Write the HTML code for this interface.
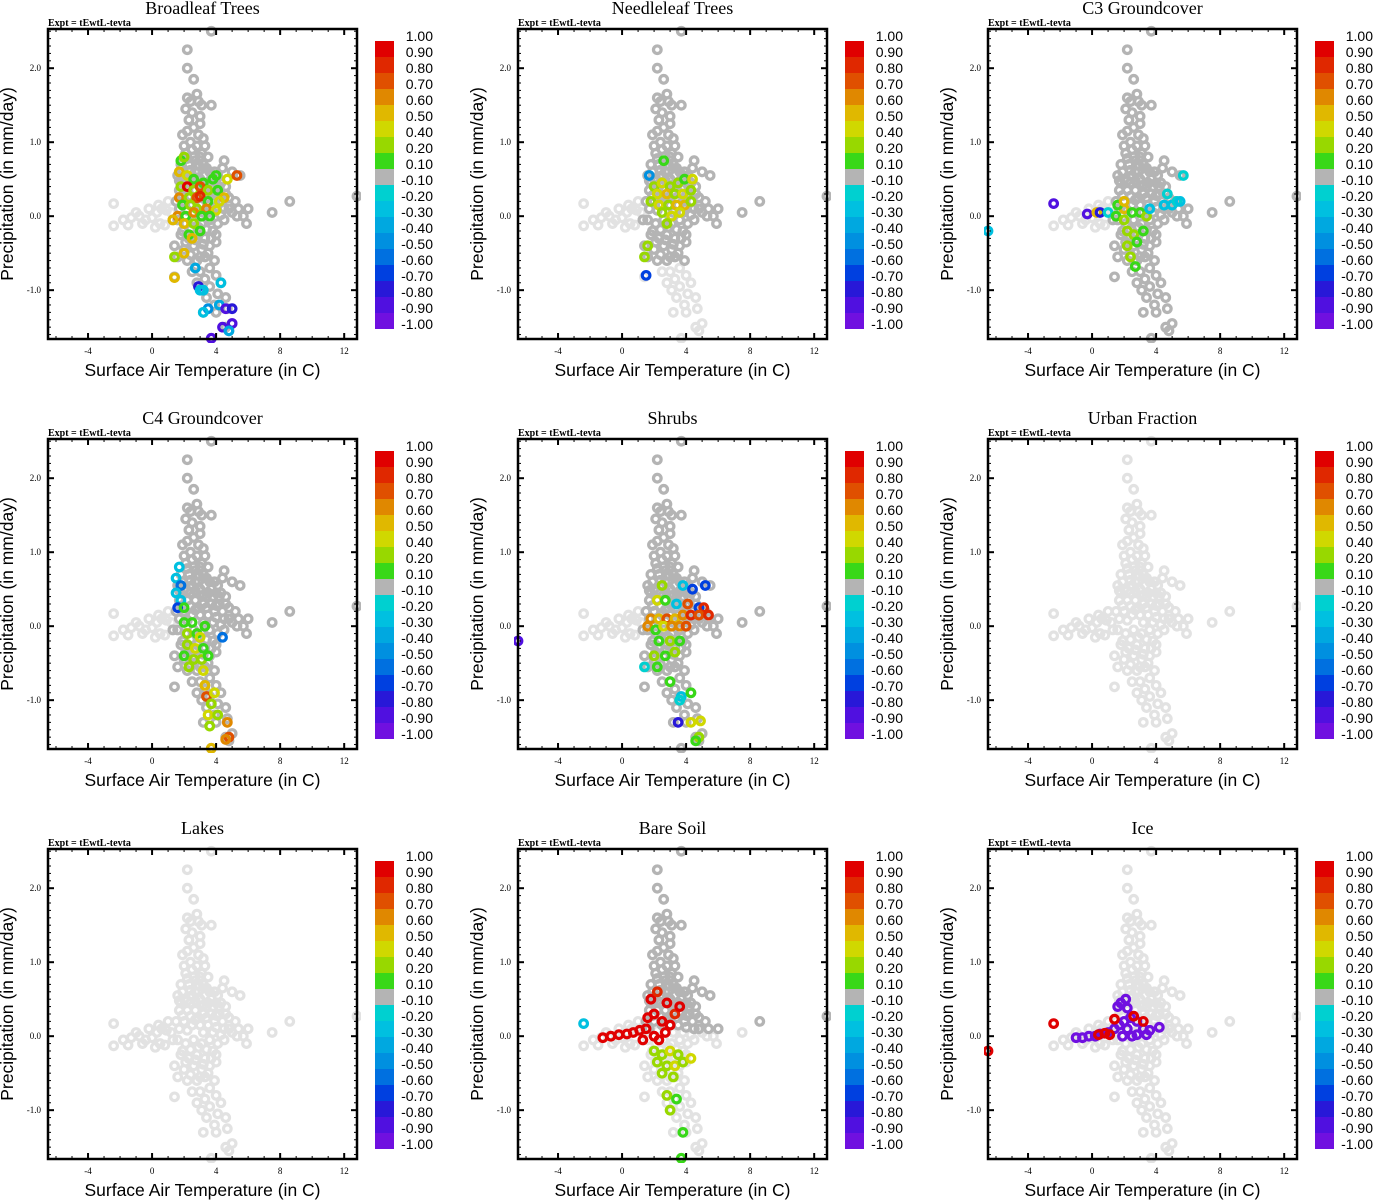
<!DOCTYPE html>
<html><head><meta charset="utf-8"><style>
html,body{margin:0;padding:0;background:#fff;}
svg{display:block}
</style></head><body>
<svg id="fig" width="1374" height="1200" xmlns="http://www.w3.org/2000/svg"></svg>
<script>
// ---- data ----
const panelTitles = ["Broadleaf Trees","Needleleaf Trees","C3 Groundcover","C4 Groundcover","Shrubs","Urban Fraction","Lakes","Bare Soil","Ice"];
const xTicks = [-4,0,4,8,12];
const yTicks = [2.0,1.0,0.0,-1.0];
const cbLabels = ["1.00","0.90","0.80","0.70","0.60","0.50","0.40","0.20","0.10","-0.10","-0.20","-0.30","-0.40","-0.50","-0.60","-0.70","-0.80","-0.90","-1.00"];
const cbColors = ["#e00000","#e02800","#e05000","#e08800","#e0b800","#d0d800","#98d800","#38d818","#b4b4b4","#00d0d0","#00c0e0","#00a8e0","#0090e0","#0070e0","#0040e0","#2818d8","#5010e0","#7010e0"];
// base cloud (temperature, precipitation)
const baseCloud = [[2.2,2.25],[2.2,2.0],[2.6,1.85],[2.8,1.65],[2.2,1.6],[2.4,1.55],[2.9,1.55],[2.1,1.45],[2.5,1.4],[3.0,1.35],[3.7,1.5],[3.1,1.5],[2.3,1.3],[2.6,1.2],[3.0,1.25],[2.2,1.15],[2.9,1.1],[3.2,1.05],[1.9,1.1],[2.4,1.0],[2.8,0.95],[3.3,0.95],[2.1,0.85],[2.6,0.8],[3.1,0.85],[3.5,0.8],[4.5,0.75],[4.4,0.65],[1.8,0.7],[2.3,0.7],[2.9,0.7],[3.4,0.65],[3.9,0.6],[4.1,0.55],[5.0,0.6],[5.5,0.55],[1.6,0.55],[2.0,0.5],[2.5,0.55],[3.0,0.5],[3.5,0.45],[4.0,0.45],[4.6,0.4],[1.7,0.35],[2.2,0.35],[2.7,0.35],[3.2,0.3],[3.7,0.3],[4.2,0.3],[4.8,0.25],[5.2,0.2],[1.5,0.2],[2.0,0.2],[2.5,0.15],[3.0,0.15],[3.5,0.15],[4.0,0.12],[4.5,0.1],[5.0,0.05],[5.7,0.0],[1.9,0.6],[2.7,0.6],[3.3,0.55],[3.8,0.4],[4.3,0.45],[1.8,0.45],[2.4,0.45],[2.9,0.25],[3.4,0.4],[3.9,0.2],[4.4,0.2],[5.4,0.1],
[2.0,0.95],[2.5,0.9],[3.0,0.8],[2.2,0.78],[2.7,0.75],[3.2,0.7],[2.4,0.62],[2.9,0.6],[3.6,0.6],[1.7,0.48],[2.2,0.48],[2.7,0.48],[3.2,0.42],[3.7,0.5],[4.2,0.4],[1.9,0.28],[2.4,0.27],[3.4,0.25],[4.0,0.28],[4.6,0.3],[1.7,0.1],[2.2,0.08],[2.7,0.22],[3.2,0.05],[3.8,0.05],[4.3,0.02],[4.8,0.1],[5.3,0.0],[1.9,-0.2],[2.4,-0.18],[2.9,-0.15],[3.4,-0.18],[4.0,-0.25],[4.5,-0.05],[2.1,-0.35],[2.7,-0.32],[3.2,-0.38],[3.7,-0.3],[2.4,-0.52],[3.0,-0.55],[3.5,-0.5],
[-2.4,0.17],[-2.4,-0.13],[-1.8,-0.05],[-1.3,-0.02],[-0.8,0.0],[-0.4,-0.05],[0.0,-0.02],[0.3,0.05],[0.6,0.1],[0.9,0.08],[1.2,0.05],[-1.0,0.05],[-0.2,0.1],[0.5,-0.1],[0.2,-0.15],[0.8,-0.12],[1.0,0.2],[1.3,-0.05],[-0.6,-0.1],[-1.5,-0.12],[0.4,0.15],[7.5,0.05],[8.6,0.2],[12.8,0.27],[3.7,2.5],[6.0,0.1],[5.9,-0.1],
[1.6,-0.05],[2.1,-0.1],[2.6,-0.05],[3.1,-0.1],[3.6,-0.05],[4.1,-0.1],[1.8,-0.25],[2.3,-0.3],[2.8,-0.25],[3.3,-0.3],[3.8,-0.2],[1.4,-0.4],[2.0,-0.45],[2.6,-0.4],[3.1,-0.45],[3.6,-0.4],[4.0,-0.35],[1.6,-0.55],[2.2,-0.6],[2.8,-0.6],[3.3,-0.55],[3.9,-0.6],[2.5,-0.75],[3.0,-0.75],[3.6,-0.7],[1.4,-0.82],[2.8,-0.9],[3.3,-0.85],[4.0,-0.8],[3.1,-1.0],[3.6,-0.95],[4.3,-0.9],[3.4,-1.1],[4.1,-1.05],[4.6,-1.1],[3.9,-1.2],[4.7,-1.25],[3.2,-1.3],[4.0,-1.3],[4.6,-1.5],[5.0,-1.45],[4.8,-1.55],[3.7,-1.65]];
// dark-gray selection per panel: [minT, minP, maxP] or null
const darkSel = [[1.3,-1.7,2.6],[1.3,-0.6,2.6],[1.3,-1.7,2.6],[1.3,-1.7,2.6],[1.3,-1.7,2.6],null,null,[1.3,0.1,2.6],null];
// colored points [temperature, precipitation, correlation]
const broadleaf = [[1.8,0.75,0.1],[2.0,0.8,0.3],[1.7,0.6,0.5],[2.2,0.55,0.4],[2.6,0.5,0.1],[3.2,0.45,0.1],[3.8,0.5,0.1],[4.0,0.55,0.15],[4.7,0.5,0.4],[5.3,0.55,0.7],[1.8,0.4,0.2],[2.2,0.4,0.9],[2.6,0.35,0.3],[3.0,0.4,0.7],[3.5,0.35,0.2],[4.1,0.35,0.1],[4.5,0.25,0.5],[1.7,0.25,0.65],[2.3,0.25,0.3],[2.8,0.25,0.7],[3.0,0.27,0.85],[3.5,0.2,0.1],[4.2,0.2,0.45],[1.9,0.15,0.1],[2.4,0.15,0.2],[2.8,0.1,0.2],[3.4,0.1,0.6],[4.0,0.08,0.4],[1.6,0.0,0.65],[2.1,0.0,0.1],[2.6,0.05,0.65],[3.1,0.0,0.1],[3.6,0.0,0.1],[1.3,-0.05,0.55],[2.0,-0.1,0.5],[2.6,-0.1,0.3],[2.3,-0.25,0.1],[3.0,-0.2,0.1],[2.5,-0.3,0.55],[1.4,-0.55,0.2],[2.0,-0.5,0.55],[1.4,-0.83,0.55],[2.9,-0.95,-0.8],[3.0,-1.0,-0.25],[3.2,-1.0,-0.3],[2.7,-0.7,-0.4],[4.3,-0.9,-0.25],[3.5,-1.25,-0.5],[3.2,-1.3,-0.25],[4.2,-1.2,-0.4],[4.6,-1.25,-0.85],[5.0,-1.25,-0.8],[4.4,-1.5,-0.85],[5.0,-1.45,-0.85],[4.8,-1.55,-0.4],[3.7,-1.65,-0.85]];
const needleleaf = [[2.6,0.75,0.1],[1.7,0.55,-0.5],[2.0,0.4,0.3],[2.5,0.45,0.4],[3.0,0.4,0.35],[3.5,0.45,0.2],[3.9,0.5,0.1],[4.4,0.5,0.4],[2.2,0.3,0.4],[2.8,0.3,0.5],[3.3,0.3,0.35],[3.8,0.3,0.45],[4.3,0.35,0.2],[1.8,0.2,0.35],[2.3,0.15,0.4],[2.9,0.15,0.3],[3.4,0.15,0.5],[3.9,0.15,0.55],[4.3,0.2,0.3],[2.5,0.05,0.2],[3.1,0.0,0.45],[3.6,0.05,0.4],[2.8,-0.1,0.2],[1.6,-0.4,0.2],[1.4,-0.55,0.3],[1.5,-0.8,-0.65]];
const c3 = [[-2.4,0.17,-0.9],[-6.5,-0.2,-0.3],[-0.3,0.03,-0.9],[0.3,0.05,0.5],[0.5,0.05,-0.8],[1.0,0.05,-0.2],[1.5,0.0,0.1],[2.0,0.1,0.5],[2.5,0.05,0.1],[3.0,0.05,0.1],[3.4,0.0,0.2],[3.6,0.1,-0.3],[4.5,0.15,-0.25],[5.0,0.15,-0.3],[5.3,0.2,-0.2],[5.5,0.2,-0.3],[5.7,0.55,-0.2],[4.7,0.3,-0.2],[2.2,-0.2,0.2],[2.6,-0.25,0.3],[2.2,-0.4,0.2],[2.8,-0.35,0.1],[3.2,-0.2,0.1],[2.4,-0.55,0.2],[2.7,-0.68,0.1],[1.6,0.15,0.1],[2.0,-0.05,0.2],[2.0,0.2,0.55]];
const c4 = [[1.7,0.8,-0.3],[1.5,0.65,-0.25],[1.8,0.55,-0.6],[1.5,0.45,-0.25],[1.8,0.35,-0.3],[1.6,0.25,-0.7],[2.0,0.25,0.1],[2.0,0.05,0.1],[2.5,0.05,0.1],[3.3,0.0,0.1],[2.2,-0.1,0.2],[2.8,-0.1,0.1],[3.0,-0.15,0.4],[2.2,-0.25,0.3],[2.7,-0.3,0.45],[3.2,-0.3,0.1],[4.4,-0.15,-0.6],[2.0,-0.4,0.1],[2.6,-0.45,0.35],[3.1,-0.45,0.3],[3.5,-0.4,0.1],[2.3,-0.55,0.2],[3.2,-0.6,0.4],[3.3,-0.8,0.55],[3.4,-0.95,0.7],[3.9,-0.9,0.45],[3.7,-1.05,0.3],[3.5,-1.2,0.4],[4.1,-1.2,0.2],[4.7,-1.3,0.65],[3.6,-1.35,0.3],[4.8,-1.5,0.7],[4.6,-1.53,0.65],[3.7,-1.65,0.55]];
const shrubs = [[-6.5,-0.2,-0.85],[2.5,0.55,0.2],[3.8,0.55,-0.3],[4.4,0.5,-0.7],[5.2,0.55,-0.7],[2.2,0.35,0.4],[2.7,0.35,0.1],[3.4,0.3,-0.3],[4.1,0.3,0.7],[4.8,0.25,-0.7],[5.1,0.25,0.8],[1.8,0.1,0.6],[2.3,0.1,0.5],[2.8,0.1,0.7],[3.3,0.1,0.55],[3.8,0.15,0.65],[4.3,0.15,0.8],[4.8,0.15,0.75],[5.4,0.15,0.85],[1.6,0.0,0.65],[2.1,-0.05,0.1],[2.6,0.0,0.45],[3.1,0.0,0.65],[3.6,0.0,0.6],[4.0,0.0,0.7],[2.3,-0.2,0.1],[3.0,-0.2,0.3],[3.6,-0.2,0.1],[2.0,-0.4,0.3],[2.7,-0.4,0.1],[3.3,-0.35,0.35],[1.4,-0.55,-0.2],[2.2,-0.55,0.1],[3.0,-0.75,0.1],[3.7,-0.95,-0.3],[4.3,-0.9,0.1],[3.6,-1.0,-0.2],[3.5,-1.3,-0.75],[4.3,-1.3,0.4],[4.9,-1.28,0.4],[4.8,-1.5,0.2],[4.6,-1.55,0.1]];
const urban = [];
const lakes = [];
const bareSoil = [[2.0,-0.2,0.2],[2.5,-0.25,0.3],[3.0,-0.2,0.4],[3.5,-0.25,0.3],[2.2,-0.35,0.35],[2.8,-0.4,0.2],[3.3,-0.4,0.45],[3.8,-0.35,0.3],[2.5,-0.5,0.2],[3.2,-0.55,0.3],[2.8,-0.8,0.2],[3.4,-0.85,0.1],[3.0,-1.0,0.3],[3.8,-1.3,0.1],[3.7,-1.65,0.1],[4.3,-0.3,0.4],[-2.4,0.17,-0.25],[-1.2,-0.02,0.9],[-0.7,0.0,0.95],[-0.2,0.02,0.9],[0.3,0.03,0.9],[0.7,0.05,0.95],[1.1,0.08,0.9],[1.5,0.1,0.95],[1.6,0.25,0.9],[2.0,0.3,0.9],[1.8,0.5,0.9],[2.2,0.6,0.85],[2.5,0.2,0.95],[3.0,0.15,0.9],[3.3,0.3,0.85],[3.6,0.4,0.9],[2.8,0.45,0.9],[1.3,-0.05,0.95],[2.3,-0.05,0.9],[2.7,0.05,0.95],[2.0,0.0,0.9]];
const ice = [[-1.0,-0.02,-1],[-0.6,-0.02,-1],[-0.2,0.0,-1],[0.2,0.0,-1],[0.5,0.03,-1],[1.0,0.05,-1],[1.4,0.1,-1],[1.7,0.15,-1],[2.0,0.2,-1],[2.4,0.25,-1],[2.8,0.2,-1],[3.2,0.1,-1],[3.6,0.08,-1],[4.2,0.12,-1],[1.6,0.4,-1],[1.8,0.45,-1],[2.1,0.5,-1],[2.2,0.38,-1],[2.5,0.0,-1],[1.9,0.0,-1],[2.8,0.02,-1],[3.4,0.02,-1],[2.2,0.1,-1],[-2.4,0.17,0.95],[-6.5,-0.2,0.95],[0.4,0.02,0.95],[0.8,0.04,0.95],[1.1,0.02,0.95],[1.4,0.23,0.95],[2.6,0.27,0.95],[3.2,0.2,0.95]];
const panelSeries = [broadleaf,needleleaf,c3,c4,shrubs,urban,lakes,bareSoil,ice];

// ---- drawing ----
const NS="http://www.w3.org/2000/svg";
const svg=document.getElementById('fig');
const X0=-6.5,X1=12.8,Y0=-1.66,Y1=2.53, PW=309, PH=310;
function sx(t){return (t-X0)/(X1-X0)*PW;}
function sy(p){return PH-(p-Y0)/(Y1-Y0)*PH;}
function mk(tag,attrs,parent){const e=document.createElementNS(NS,tag);for(const k in attrs)e.setAttribute(k,attrs[k]);parent.appendChild(e);return e;}
function colorFor(v){const lv=cbLabels.map(Number);for(let i=0;i<18;i++){if(v>=lv[i+1])return cbColors[i];}return cbColors[17];}
const R=3.8, SW=3.2;

panelTitles.forEach((title,pi)=>{
  const ox=48+(pi%3)*470, oy=29+Math.floor(pi/3)*410;
  const g=mk('g',{transform:`translate(${ox},${oy})`},svg);
  
  
  const t=mk('text',{x:PW/2,y:-15,'text-anchor':'middle','font-family':'Liberation Serif, serif','font-size':18},g);t.textContent=title;
  
  const ex=mk('text',{x:0,y:-3,'font-family':'Liberation Serif, serif','font-size':10,'font-weight':'bold'},g);ex.textContent='Expt = tEwtL-tevta';
  
  const clip=mk('clipPath',{id:'c'+pi},g);mk('rect',{x:-4,y:-4,width:PW+8,height:PH+8},clip);
  const pts=mk('g',{'clip-path':`url(#c${pi})`},g);
  
  const light='#e2e2e2';
  baseCloud.forEach(([a,b])=>{const c=mk('circle',{cx:sx(a),cy:sy(b),r:R,fill:'none',stroke:light,'stroke-width':SW},pts);
    });
  const ds=darkSel[pi];
  if(ds) baseCloud.forEach(([a,b])=>{if(a>=ds[0]&&b>=ds[1]&&b<=ds[2]){const c=mk('circle',{cx:sx(a),cy:sy(b),r:R,fill:'none',stroke:'#b4b4b4','stroke-width':SW},pts);
    }});
  panelSeries[pi].forEach(([a,b,v])=>{const c=mk('circle',{cx:sx(a),cy:sy(b),r:R,fill:'none',stroke:colorFor(v),'stroke-width':SW},pts);
    });
  const fr=mk('rect',{x:0,y:0,width:PW,height:PH,fill:'none',stroke:'#000','stroke-width':2.5},g);
  
  for(let v=-6;v<=12;v++){const big=(v%4===0);const L=big?6:3;
    mk('line',{x1:sx(v),x2:sx(v),y1:PH,y2:PH-L,stroke:'#000','stroke-width':big?2:1},g);
    mk('line',{x1:sx(v),x2:sx(v),y1:0,y2:L,stroke:'#000','stroke-width':big?2:1},g);}
  xTicks.forEach(v=>{const tx=mk('text',{x:sx(v),y:PH+15,'text-anchor':'middle','font-family':'Liberation Serif, serif','font-size':9},g);tx.textContent=v;
    });
  for(let k=-16;k<=25;k++){const v=k/10;const big=(k%10===0);const L=big?6:3;
    mk('line',{x1:0,x2:L,y1:sy(v),y2:sy(v),stroke:'#000','stroke-width':big?2:1},g);
    mk('line',{x1:PW,x2:PW-L,y1:sy(v),y2:sy(v),stroke:'#000','stroke-width':big?2:1},g);}
  yTicks.forEach(v=>{const ty=mk('text',{x:-7,y:sy(v)+3,'text-anchor':'end','font-family':'Liberation Serif, serif','font-size':9},g);ty.textContent=v.toFixed(1);
    });
  const xt=mk('text',{x:PW/2,y:PH+37,'text-anchor':'middle','font-family':'Liberation Sans, sans-serif','font-size':17.5},g);xt.textContent='Surface Air Temperature (in C)';
  
  const yt=mk('text',{x:0,y:0,transform:`translate(-35,${PH/2}) rotate(-90)`,'text-anchor':'middle','font-family':'Liberation Sans, sans-serif','font-size':17.5},g);yt.textContent='Precipitation (in mm/day)';
  
  const cb=mk('g',{transform:'translate(327,12)'},g);
  
  cbColors.forEach((c,i)=>{const r=mk('rect',{x:0,y:i*16,width:19,height:16,fill:c},cb);
    });
  cbLabels.forEach((l,i)=>{const tl=mk('text',{x:58,y:i*16,'text-anchor':'end','font-family':'Liberation Sans, sans-serif','font-size':14},cb);tl.textContent=l;
    });
});
</script>
</body></html>
